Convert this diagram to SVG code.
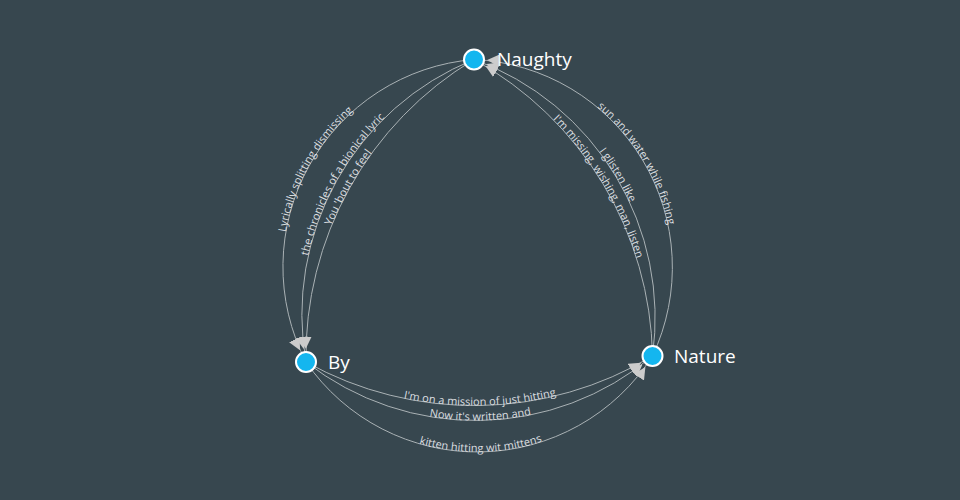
<svg xmlns="http://www.w3.org/2000/svg" xmlns:xlink="http://www.w3.org/1999/xlink" width="960" height="500" viewBox="0 0 960 500">
<style>
.link{fill:none;stroke:#aab2b5;stroke-width:1;marker-end:url(#arrow)}
.lbl{font-family:"Open Sans","Liberation Sans",sans-serif;font-size:11px;fill:#dcdfe0}
.node circle{fill:#14b6ef;stroke:#ffffff;stroke-width:2}
.node text{font-family:"Open Sans","Liberation Sans",sans-serif;font-size:19px;fill:#ffffff}
</style>
<defs>
<marker id="arrow" viewBox="0 -5 10 10" refX="21" refY="0" markerWidth="12" markerHeight="12" markerUnits="userSpaceOnUse" orient="auto">
<path d="M0,-5L10,0L0,5Z" fill="#cccccc"/>
</marker>
<path id="tL1" d="M306,362 A208,208 0 0,1 474,59.5"/>
<path id="tL2" d="M306,362 A275,275 0 0,1 474,59.5"/>
<path id="tL3" d="M306,362 A346,346 0 0,1 474,59.5"/>
<path id="tR1" d="M474,59.5 A208,208 0 0,1 652.5,356"/>
<path id="tR2" d="M474,59.5 A275,275 0 0,1 652.5,356"/>
<path id="tR3" d="M474,59.5 A346,346 0 0,1 652.5,356"/>
</defs>
<rect width="960" height="500" fill="#37474f"/>
<g id="connectors">
<path class="link" d="M474,59.5 A208,208 0 0,0 306,362"/>
<path class="link" d="M474,59.5 A275,275 0 0,0 306,362"/>
<path class="link" d="M474,59.5 A346,346 0 0,0 306,362"/>
<path class="link" d="M652.5,356 A208,208 0 0,0 474,59.5"/>
<path class="link" d="M652.5,356 A275,275 0 0,0 474,59.5"/>
<path class="link" d="M652.5,356 A346,346 0 0,0 474,59.5"/>
<path class="link" id="tB1" d="M306,362 A208,208 0 0,0 652.5,356"/>
<path class="link" id="tB2" d="M306,362 A275,275 0 0,0 652.5,356"/>
<path class="link" id="tB3" d="M306,362 A346,346 0 0,0 652.5,356"/>
<text class="lbl" text-anchor="middle"><textPath xlink:href="#tL1" href="#tL1" startOffset="50%">Lyrically splitting dismissing</textPath></text>
<text class="lbl" text-anchor="middle"><textPath xlink:href="#tL2" href="#tL2" startOffset="50%">the chronicles of a bionical lyric</textPath></text>
<text class="lbl" text-anchor="middle"><textPath xlink:href="#tL3" href="#tL3" startOffset="50%">You 'bout to feel</textPath></text>
<text class="lbl" text-anchor="middle"><textPath xlink:href="#tR1" href="#tR1" startOffset="50%">sun and water while fishing</textPath></text>
<text class="lbl" text-anchor="middle"><textPath xlink:href="#tR2" href="#tR2" startOffset="50%">I glisten like</textPath></text>
<text class="lbl" text-anchor="middle"><textPath xlink:href="#tR3" href="#tR3" startOffset="50%">I'm missing, wishing, man, listen</textPath></text>
<text class="lbl" text-anchor="middle"><textPath xlink:href="#tB3" href="#tB3" startOffset="50%">I'm on a mission of just hitting</textPath></text>
<text class="lbl" text-anchor="middle"><textPath xlink:href="#tB2" href="#tB2" startOffset="50%">Now it's written and</textPath></text>
<text class="lbl" text-anchor="middle"><textPath xlink:href="#tB1" href="#tB1" startOffset="50%">kitten hitting wit mittens</textPath></text>
</g>
<g id="node-naughty" class="node">
<circle cx="474" cy="59.5" r="10"/>
<text x="497" y="66">Naughty</text>
</g>
<g id="node-by" class="node">
<circle cx="306" cy="362" r="10"/>
<text x="328" y="368.5">By</text>
</g>
<g id="node-nature" class="node">
<circle cx="652.5" cy="356" r="10"/>
<text x="674" y="362.5">Nature</text>
</g>
</svg>
